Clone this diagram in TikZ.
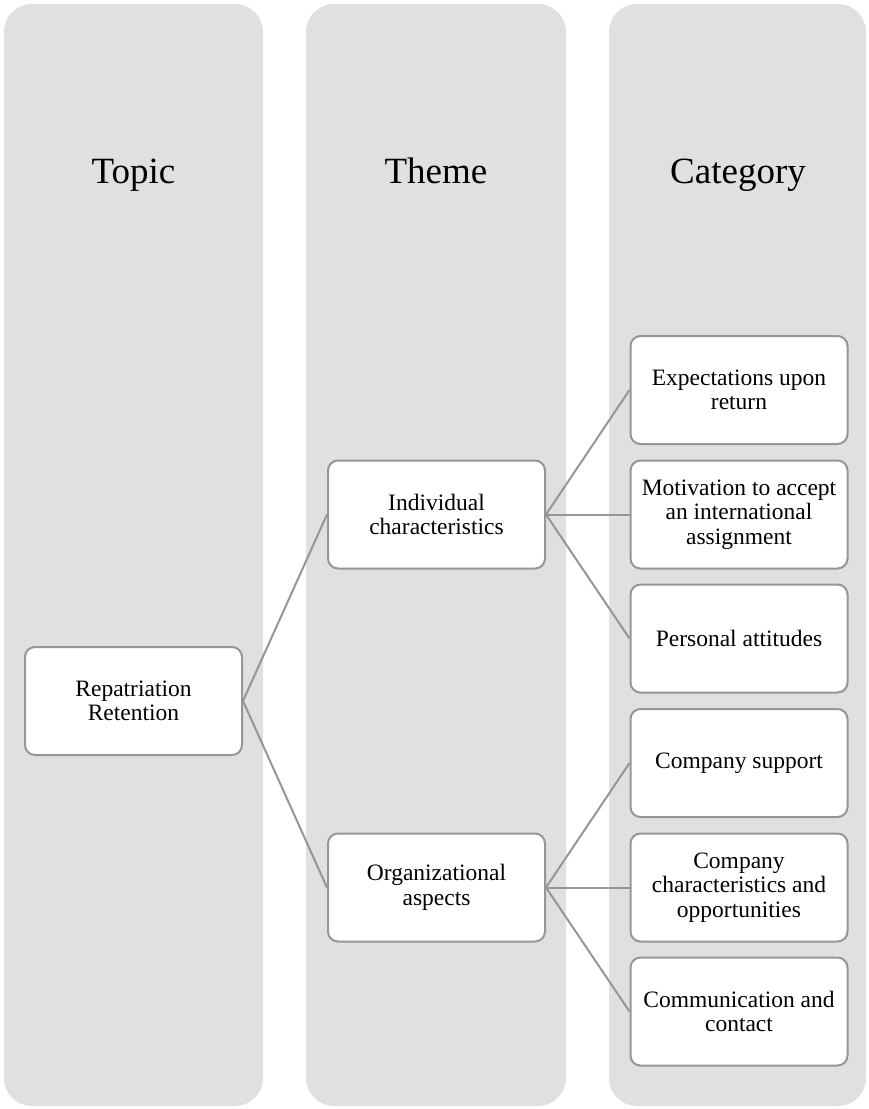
\documentclass[tikz,border=0pt]{standalone}
\usepackage{fontspec}
\setmainfont{Liberation Serif}
\definecolor{lanefill}{HTML}{E0E0E0}
\definecolor{edgegray}{HTML}{969696}
\begin{document}
\begin{tikzpicture}[x=1pt,y=-1pt,
  lane/.style={fill=lanefill,draw=none,rounded corners=28pt},
  header/.style={font=\fontsize{37}{44}\selectfont,anchor=base},
  item/.style={draw=edgegray,fill=white,line width=2pt,rounded corners=10pt,
    minimum width=217pt,minimum height=108pt,inner sep=0pt,align=center,
    font=\fontsize{23.5}{24.5}\selectfont},
  link/.style={draw=edgegray,line width=2pt}]
  \useasboundingbox (0,0) rectangle (868,1109);

  % three column lanes
  \path[lane] (4,4) rectangle (263,1106);
  \path[lane] (306,4) rectangle (566,1106);
  \path[lane] (609,4) rectangle (866,1106);

  % lane headings
  \node[header] (hTopic) at (133.5,183) {Topic};
  \node[header] (hTheme) at (436,183) {Theme};
  \node[header] (hCat) at (738,183) {Category};

  % topic
  \node[item] (topic) at (133.5,701) {Repatriation\\Retention};

  % themes
  \node[item] (indiv) at (436.5,514.5) {Individual\\characteristics};
  \node[item] (org) at (436.5,887.5) {Organizational\\aspects};

  % categories
  \node[item] (c1) at (739,390) {Expectations upon\\return};
  \node[item] (c2) at (739,514.5) {Motivation to accept\\an international\\assignment};
  \node[item] (c3) at (739,638.5) {Personal attitudes};
  \node[item] (c4) at (739,763) {Company support};
  \node[item] (c5) at (739,887.5) {Company\\characteristics and\\opportunities};
  \node[item] (c6) at (739,1011.5) {Communication and\\contact};

  % connectors
  \draw[link] (topic.east) -- (indiv.west);
  \draw[link] (topic.east) -- (org.west);
  \draw[link] (indiv.east) -- (c1.west);
  \draw[link] (indiv.east) -- (c2.west);
  \draw[link] (indiv.east) -- (c3.west);
  \draw[link] (org.east) -- (c4.west);
  \draw[link] (org.east) -- (c5.west);
  \draw[link] (org.east) -- (c6.west);
\end{tikzpicture}
\end{document}
